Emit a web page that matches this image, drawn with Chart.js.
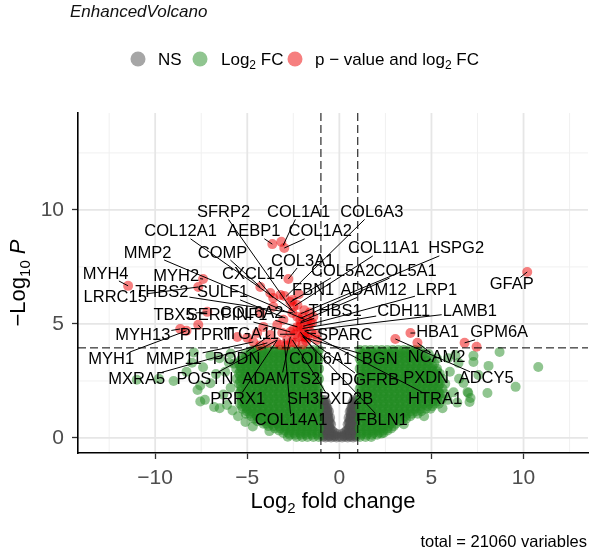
<!DOCTYPE html>
<html><head><meta charset="utf-8">
<script src="https://cdn.jsdelivr.net/npm/chart.js@4.4.1/dist/chart.umd.min.js"></script>
<style>html,body{margin:0;padding:0;background:#fff;overflow:hidden}canvas{display:block}</style>
</head><body>
<canvas id="c" width="595" height="549" style="width:595px;height:549px"></canvas>
<script>
// ---------- data ----------
const xTicks = [-10, -5, 0, 5, 10];
const yTicks = [0, 5, 10];
const xMinorTicks = [-12.5, -7.5, -2.5, 2.5, 7.5, 12.5];
const yMinorTicks = [2.5, 7.5, 12.5];
const fcCutoff = 1;
const pCutoffLog = 3.95;
const totalVariables = 21060;

// significant (p-value and log2 FC): [log2FC, -log10 P]
const sigPoints = [
 [10.2,7.28],[3.86,4.6],[3.04,4.34],[4.24,4.17],[6.8,4.17],[7.45,4.0],
 [-11.47,6.67],[-7.4,6.97],[-7.66,6.62],[-7.17,5.53],[-7.66,4.96],[-8.64,4.78],[-8.3,4.7],
 [-3.64,8.5],[-3.15,8.6],[-2.99,8.33],[-2.77,6.97],[-4.29,6.62],
 [-3.75,6.36],[-3.2,6.27],[-2.66,5.96],[-3.59,5.75],[-2.55,5.48],[-2.28,5.31],[-3.04,5.18],[-3.37,4.96],
 [-2.28,4.87],[-1.96,4.74],[-2.66,4.65],[-2.23,4.43],[-1.74,4.39],[-2.83,4.3],[-2.39,4.17],[-3.91,4.17],
 [-4.46,4.6],[-1.41,5.31],[-1.58,5.04],[-2.12,5.18],[-2.5,5.75],[-4.29,5.48],[-4.13,4.87],[-5.0,4.39],
 [-3.59,6.14],[-2.99,6.23],[-2.55,6.05],[-2.28,5.83],[-2.0,5.31],[-2.12,4.87],[-2.5,4.74],[-3.1,4.61],
 [-3.75,4.52],[-1.85,4.43],[-1.52,4.61],[-4.67,4.21],[-5.54,4.43],[-2.0,4.1],[-1.7,4.9],[-1.3,4.55],
 [-2.9,4.05],[-3.4,4.2],[-1.9,5.6],[-2.2,6.3],[-1.6,5.5],[-1.74,5.18],[-1.48,5.04],[-4.3,4.05],
 [-3.2,4.08],[-1.9,4.6],[-2.4,4.55],[-2.0,4.45],[-1.2,4.3],[-2.1,4.95],[-1.8,4.25],[-2.6,4.2]
];

// NS points, rows: [-log10 P, log2FC, log2FC, ...]
const nsRows = [
 [0.05,-0.9,-0.6,-0.3,0,0.3,0.6,0.9],
 [0.18,-0.75,-0.45,-0.15,0.15,0.45,0.75],
 [0.32,-0.9,-0.65,-0.4,0.4,0.65,0.9],
 [0.47,-0.8,-0.55,0.55,0.8],
 [0.6,-0.9,-0.7,-0.45,0.45,0.7,0.9],
 [0.75,-0.8,-0.6,0.6,0.8],
 [0.88,-0.9,-0.7,-0.5,0.5,0.7,0.9],
 [1.02,-0.8,-0.62,0.62,0.8],
 [1.15,-0.9,-0.72,-0.56,0.56,0.72,0.9],
 [1.3,-0.82,-0.64,0.64,0.82],
 [1.45,-0.9,-0.72,0.72,0.9],
 [1.6,-0.85,0.85],
 [0.1,-0.82,-0.52,-0.22,0.22,0.52,0.82],
 [0.4,-0.72,-0.5,0.5,0.72],
 [0.68,-0.85,-0.52,0.52,0.85],
 [0.95,-0.86,-0.66,0.66,0.86],
 [1.22,-0.85,-0.66,0.66,0.85],
 [0.25,-0.85,-0.58,-0.3,0.3,0.58,0.85],
 [0.53,-0.62,0.62],
 [0.82,-0.78,-0.58,0.58,0.78],
 [1.38,-0.78,0.78],
 [1.52,-0.84,-0.7,0.7,0.84],
 [0.02,-0.75,-0.45,-0.15,0.15,0.45,0.75],
 [0.14,-0.9,-0.6,-0.35,0.35,0.6,0.9],
 [0.36,-0.78,-0.55,0.55,0.78],
 [0.62,-0.76,-0.58,0.58,0.76],
 [0.9,-0.84,-0.62,0.62,0.84],
 [1.1,-0.8,-0.64,0.64,0.8],
 [1.35,-0.88,-0.7,0.7,0.88],
 [1.66,-0.92,-0.78,0.78,0.92]
];

// Log2 FC points (dense part), rows: [-log10 P, log2FC, ...]
const fcRows = [
 [0.04,-1.12,-1.41,-1.73,-2.02,-2.33],
 [0.22,-1.24,-1.56,-1.86,-2.14,-2.46,-2.76,-3.04],
 [0.42,-1.1,-1.4,-1.71,-2.0,-2.31,-2.6,-2.9,-3.21,-3.5],
 [0.62,-1.25,-1.54,-1.85,-2.16,-2.45,-2.74,-3.05,-3.36,-3.65,-3.94,-4.12],
 [0.84,-1.1,-1.41,-1.7,-2.01,-2.3,-2.61,-2.9,-3.2,-3.51,-3.8,-4.1,-4.39,-4.62],
 [1.06,-1.25,-1.55,-1.84,-2.15,-2.46,-2.75,-3.04,-3.35,-3.66,-3.95,-4.24,-4.55,-4.84,-5.08],
 [1.28,-1.1,-1.4,-1.7,-2.0,-2.31,-2.6,-2.9,-3.2,-3.5,-3.81,-4.1,-4.4,-4.7,-5.0,-5.26],
 [1.5,-1.25,-1.55,-1.86,-2.15,-2.45,-2.76,-3.05,-3.34,-3.65,-3.95,-4.26,-4.55,-4.85,-5.14,-5.4],
 [1.72,-1.1,-1.41,-1.7,-2.0,-2.3,-2.6,-2.91,-3.2,-3.5,-3.8,-4.1,-4.41,-4.7,-5.0,-5.3],
 [1.94,-1.25,-1.55,-1.85,-2.16,-2.45,-2.75,-3.05,-3.35,-3.64,-3.95,-4.25,-4.55,-4.86,-5.15,-5.45],
 [2.16,-1.1,-1.4,-1.7,-2.01,-2.3,-2.6,-2.9,-3.21,-3.5,-3.8,-4.1,-4.4,-4.7,-5.01,-5.3],
 [2.38,-1.25,-1.55,-1.85,-2.15,-2.46,-2.75,-3.05,-3.35,-3.65,-3.95,-4.24,-4.55,-4.85,-5.15,-5.45],
 [2.6,-1.1,-1.4,-1.71,-2.0,-2.3,-2.6,-2.9,-3.2,-3.51,-3.8,-4.1,-4.4,-4.7,-5.0,-5.3,-5.58],
 [2.82,-1.25,-1.55,-1.85,-2.15,-2.45,-2.75,-3.06,-3.35,-3.65,-3.95,-4.25,-4.55,-4.85,-5.15,-5.45],
 [3.04,-1.1,-1.4,-1.7,-2.0,-2.3,-2.61,-2.9,-3.2,-3.5,-3.8,-4.1,-4.4,-4.71,-5.0,-5.3,-5.6],
 [3.26,-1.25,-1.55,-1.85,-2.15,-2.45,-2.75,-3.05,-3.35,-3.65,-3.96,-4.25,-4.55,-4.85,-5.15,-5.45,-5.72],
 [3.48,-1.1,-1.4,-1.7,-2.0,-2.3,-2.6,-2.9,-3.2,-3.5,-3.8,-4.1,-4.4,-4.7,-5.0,-5.3],
 [3.68,-1.25,-1.55,-1.85,-2.15,-2.45,-2.75,-3.05,-3.35,-3.65,-3.95,-4.25,-4.55,-4.85,-5.12],
 [3.86,-1.1,-1.4,-1.7,-2.0,-2.3,-2.6,-2.9,-3.2,-3.5,-3.8,-4.1,-4.4,-4.68],
 [0.14,-1.18,-1.48,-1.8,-2.1,-2.4,-2.7],
 [0.33,-1.18,-1.48,-1.78,-2.08,-2.38,-2.68,-2.98,-3.28],
 [0.52,-1.18,-1.48,-1.78,-2.08,-2.38,-2.68,-2.98,-3.28,-3.58,-3.85],
 [0.73,-1.18,-1.48,-1.78,-2.08,-2.38,-2.68,-2.98,-3.28,-3.58,-3.88,-4.18,-4.45],
 [0.95,-1.18,-1.48,-1.78,-2.08,-2.38,-2.68,-2.98,-3.28,-3.58,-3.88,-4.18,-4.48,-4.78],
 [1.17,-1.18,-1.48,-1.78,-2.08,-2.38,-2.68,-2.98,-3.28,-3.58,-3.88,-4.18,-4.48,-4.78,-5.02],
 [1.39,-1.18,-1.48,-1.78,-2.08,-2.38,-2.68,-2.98,-3.28,-3.58,-3.88,-4.18,-4.48,-4.78,-5.08,-5.3],
 [1.61,-1.18,-1.48,-1.78,-2.08,-2.38,-2.68,-2.98,-3.28,-3.58,-3.88,-4.18,-4.48,-4.78,-5.08,-5.3],
 [1.83,-1.18,-1.48,-1.78,-2.08,-2.38,-2.68,-2.98,-3.28,-3.58,-3.88,-4.18,-4.48,-4.78,-5.08,-5.35],
 [2.05,-1.18,-1.48,-1.78,-2.08,-2.38,-2.68,-2.98,-3.28,-3.58,-3.88,-4.18,-4.48,-4.78,-5.08,-5.35],
 [2.27,-1.18,-1.48,-1.78,-2.08,-2.38,-2.68,-2.98,-3.28,-3.58,-3.88,-4.18,-4.48,-4.78,-5.08,-5.35],
 [2.49,-1.18,-1.48,-1.78,-2.08,-2.38,-2.68,-2.98,-3.28,-3.58,-3.88,-4.18,-4.48,-4.78,-5.08,-5.38],
 [2.71,-1.18,-1.48,-1.78,-2.08,-2.38,-2.68,-2.98,-3.28,-3.58,-3.88,-4.18,-4.48,-4.78,-5.08,-5.38],
 [2.93,-1.18,-1.48,-1.78,-2.08,-2.38,-2.68,-2.98,-3.28,-3.58,-3.88,-4.18,-4.48,-4.78,-5.08,-5.38],
 [3.15,-1.18,-1.48,-1.78,-2.08,-2.38,-2.68,-2.98,-3.28,-3.58,-3.88,-4.18,-4.48,-4.78,-5.08,-5.38],
 [3.37,-1.18,-1.48,-1.78,-2.08,-2.38,-2.68,-2.98,-3.28,-3.58,-3.88,-4.18,-4.48,-4.78,-5.08,-5.38],
 [3.58,-1.18,-1.48,-1.78,-2.08,-2.38,-2.68,-2.98,-3.28,-3.58,-3.88,-4.18,-4.48,-4.78,-5.05],
 [3.78,-1.18,-1.48,-1.78,-2.08,-2.38,-2.68,-2.98,-3.28,-3.58,-3.88,-4.18,-4.48,-4.8],
 [0.04,1.12,1.42,1.73],
 [0.22,1.25,1.55,1.86,2.15,2.4],
 [0.42,1.1,1.41,1.7,2.0,2.3,2.6,2.82],
 [0.62,1.25,1.55,1.85,2.15,2.45,2.75,3.05],
 [0.84,1.1,1.4,1.7,2.01,2.3,2.6,2.9,3.2,3.45,3.62],
 [1.06,1.25,1.55,1.85,2.15,2.45,2.75,3.05,3.35,3.65,3.95,4.25],
 [1.28,1.1,1.4,1.7,2.0,2.3,2.6,2.9,3.2,3.5,3.8,4.1,4.4,4.7,4.95],
 [1.5,1.25,1.55,1.85,2.15,2.45,2.75,3.05,3.35,3.65,3.95,4.25,4.55,4.85,5.15,5.4],
 [1.72,1.1,1.4,1.7,2.0,2.3,2.6,2.9,3.2,3.5,3.8,4.1,4.4,4.7,5.0,5.3,5.58],
 [1.94,1.25,1.55,1.85,2.15,2.45,2.75,3.05,3.35,3.65,3.95,4.25,4.55,4.85,5.15,5.45,5.72],
 [2.16,1.1,1.4,1.7,2.0,2.3,2.6,2.9,3.2,3.5,3.8,4.1,4.4,4.7,5.0,5.3,5.6],
 [2.38,1.25,1.55,1.85,2.15,2.45,2.75,3.05,3.35,3.65,3.95,4.25,4.55,4.85,5.15,5.45,5.75],
 [2.6,1.1,1.4,1.7,2.0,2.3,2.6,2.9,3.2,3.5,3.8,4.1,4.4,4.7,5.0,5.3,5.6],
 [2.82,1.25,1.55,1.85,2.15,2.45,2.75,3.05,3.35,3.65,3.95,4.25,4.55,4.85,5.15,5.45],
 [3.04,1.1,1.4,1.7,2.0,2.3,2.6,2.9,3.2,3.5,3.8,4.1,4.4,4.7,5.0,5.3],
 [3.26,1.25,1.55,1.85,2.15,2.45,2.75,3.05,3.35,3.65,3.95,4.25,4.55,4.85,5.15],
 [3.48,1.1,1.4,1.7,2.0,2.3,2.6,2.9,3.2,3.5,3.8,4.1,4.4,4.7,5.0,5.3],
 [3.68,1.25,1.55,1.85,2.15,2.45,2.75,3.05,3.35,3.65,3.95,4.25,4.55,4.85],
 [3.86,1.1,1.4,1.7,2.0,2.3,2.6,2.9,3.2,3.5,3.8,4.1,4.4],
 [0.14,1.18,1.48,1.78,2.05],
 [0.33,1.18,1.48,1.78,2.08,2.38,2.62],
 [0.52,1.18,1.48,1.78,2.08,2.38,2.68,2.95],
 [0.73,1.18,1.48,1.78,2.08,2.38,2.68,2.98,3.28],
 [0.95,1.18,1.48,1.78,2.08,2.38,2.68,2.98,3.28,3.58,3.85],
 [1.17,1.18,1.48,1.78,2.08,2.38,2.68,2.98,3.28,3.58,3.88,4.18,4.45],
 [1.39,1.18,1.48,1.78,2.08,2.38,2.68,2.98,3.28,3.58,3.88,4.18,4.48,4.78,5.05],
 [1.61,1.18,1.48,1.78,2.08,2.38,2.68,2.98,3.28,3.58,3.88,4.18,4.48,4.78,5.08,5.35],
 [1.83,1.18,1.48,1.78,2.08,2.38,2.68,2.98,3.28,3.58,3.88,4.18,4.48,4.78,5.08,5.38],
 [2.05,1.18,1.48,1.78,2.08,2.38,2.68,2.98,3.28,3.58,3.88,4.18,4.48,4.78,5.08,5.38],
 [2.27,1.18,1.48,1.78,2.08,2.38,2.68,2.98,3.28,3.58,3.88,4.18,4.48,4.78,5.08,5.38],
 [2.49,1.18,1.48,1.78,2.08,2.38,2.68,2.98,3.28,3.58,3.88,4.18,4.48,4.78,5.08,5.38],
 [2.71,1.18,1.48,1.78,2.08,2.38,2.68,2.98,3.28,3.58,3.88,4.18,4.48,4.78,5.08,5.38],
 [2.93,1.18,1.48,1.78,2.08,2.38,2.68,2.98,3.28,3.58,3.88,4.18,4.48,4.78,5.08,5.3],
 [3.15,1.18,1.48,1.78,2.08,2.38,2.68,2.98,3.28,3.58,3.88,4.18,4.48,4.78,5.05],
 [3.37,1.18,1.48,1.78,2.08,2.38,2.68,2.98,3.28,3.58,3.88,4.18,4.48,4.78],
 [3.58,1.18,1.48,1.78,2.08,2.38,2.68,2.98,3.28,3.58,3.88,4.18,4.48],
 [3.78,1.18,1.48,1.78,2.08,2.38,2.68,2.98,3.28,3.58,3.88,4.18]
];

// Log2 FC points (scattered): [log2FC, -log10 P]
const fcSparse = [
 [-11.0,2.55],[-9.8,2.6],[-9.0,2.5],[-8.3,2.9],[-7.9,3.75],[-7.0,3.6],[-6.5,3.5],[-7.7,2.1],
 [-7.3,1.67],[-6.5,1.3],[-6.1,1.45],[-7.0,2.4],[-7.55,2.3],[-6.2,2.9],[-6.0,3.3],[-5.9,2.2],
 [-6.3,1.9],[-5.8,1.2],[-6.7,2.8],[-5.9,3.7],[-8.0,3.3],[-7.4,3.1],[-5.1,0.7],[-4.7,0.5],
 [-3.8,0.3],[-2.8,0.05],[-5.5,0.95],[-6.8,1.36],[-7.55,1.6],
 [6.47,3.29],[7.28,3.33],[6.96,2.02],[7.12,1.75],[8.04,1.97],[7.55,2.76],[6.3,3.64],[6.74,2.41],
 [5.87,1.67],[8.7,3.77],[7.28,3.6],[8.1,3.16],[10.8,3.11],[9.57,2.24],[7.0,1.97],[7.07,1.58],
 [6.2,2.0],[6.0,2.9],[6.5,2.6],[5.9,3.5],[4.6,0.95],[5.6,1.3],[6.4,1.55],[3.5,0.6],[2.3,0.2]
];

// gene labels, their label centres and the points they point to (data units)
const geneLabels = ['SFRP2','COL1A1','COL6A3','COL12A1','AEBP1','COL1A2','MMP2','COMP','MYH4','MYH2',
 'CXCL14','COL3A1','COL11A1','HSPG2','COL5A2','COL5A1','LRRC15','THBS2','SULF1','FBN1','ADAM12','LRP1',
 'THBS1','CDH11','LAMB1','TBX5','SERPINF1','COL6A2','MYH13','PTPRT','ITGA11','SPARC','HBA1','GPM6A',
 'GFAP','MYH1','MMP11','PODN','COL6A1','BGN','NCAM2','MXRA5','POSTN','ADAMTS2','PDGFRB','PXDN','ADCY5',
 'PRRX1','SH3PXD2B','HTRA1','COL14A1','FBLN1'];
const labelAt = [[-6.29,9.89],[-2.21,9.89],[1.76,9.89],[-8.62,9.04],[-4.64,9.04],[-1.04,9.04],[-10.41,8.11],
 [-6.34,8.11],[-12.69,7.19],[-8.86,7.1],[-4.68,7.19],[-1.99,7.76],[2.41,8.29],[6.34,8.29],[0.18,7.32],
 [3.57,7.32],[-12.17,6.14],[-9.64,6.36],[-6.34,6.36],[-1.42,6.47],[1.86,6.47],[5.28,6.47],[-0.23,5.55],
 [3.49,5.55],[7.08,5.55],[-8.97,5.39],[-6.09,5.39],[-4.76,5.46],[-10.67,4.5],[-7.2,4.5],[-4.79,4.54],
 [0.29,4.5],[5.34,4.61],[8.68,4.61],[9.36,6.73],[-12.39,3.46],[-8.99,3.46],[-5.58,3.46],[-1.02,3.46],
 [2.19,3.46],[5.28,3.55],[-11.0,2.57],[-7.3,2.57],[-3.16,2.57],[1.37,2.54],[4.71,2.59],[7.97,2.59],
 [-5.52,1.69],[-0.5,1.69],[5.2,1.71],[-2.62,0.75],[2.32,0.77]];
const labelTarget = [[-2.55,5.6],[-3.05,8.45],[-2.9,6.2],[-2.4,5.5],[-3.64,8.5],[-2.99,8.33],[-1.9,5.2],
 [-4.29,6.62],[-11.47,6.67],[-7.4,6.97],[-3.59,6.14],[-2.77,6.97],[-2.4,5.8],[-2.1,5.45],[-2.66,5.96],
 [-2.1,5.25],[-7.66,6.62],[-2.5,5.48],[-2.93,5.26],[-2.55,6.05],[-2.1,5.1],[-1.96,4.9],[-2.12,5.04],
 [-2.0,4.8],[-1.85,4.7],[-7.17,5.53],[-2.66,4.65],[-2.28,4.87],[-8.64,4.78],[-7.66,4.96],[-2.4,4.55],
 [-1.74,4.6],[3.86,4.6],[6.8,4.17],[10.2,7.28],[-8.3,4.7],[-4.67,4.21],[-3.75,4.52],[-2.12,4.65],
 [-1.85,4.39],[4.24,4.17],[-3.91,4.17],[-3.37,4.3],[-2.66,4.43],[-2.0,4.52],null,[3.04,4.34],
 [-3.37,4.3],[-2.55,4.3],[-1.9,4.7],[-3.0,4.35],[-2.0,4.45]];

// ---------- build ----------
const rowsToPoints = rows => rows.flatMap(r => r.slice(1).map(x => ({x: x, y: r[0]})));
const pairsToPoints = arr => arr.map(p => ({x: p[0], y: p[1]}));

const FONT = '"Liberation Sans", Arial, Helvetica, sans-serif';
const COL_NS = 'rgba(77,77,77,0.5)';
const COL_FC = 'rgba(34,139,34,0.5)';
const COL_SIG = 'rgba(238,0,0,0.5)';
const PT_R = 5;

function drawParts(ctx, parts, x, y) {
  let cx = x;
  parts.forEach(p => {
    ctx.font = p.font;
    ctx.fillText(p.t, cx, y + (p.dy || 0));
    cx += ctx.measureText(p.t).width;
  });
  return cx;
}
function partsWidth(ctx, parts) {
  let w = 0;
  parts.forEach(p => { ctx.font = p.font; w += ctx.measureText(p.t).width; });
  return w;
}

const overlay = {
  id: 'overlay',
  beforeDraw(chart) {
    const ctx = chart.ctx, a = chart.chartArea;
    const xs = chart.scales.x, ys = chart.scales.y;
    ctx.save();
    ctx.fillStyle = '#fff';
    ctx.fillRect(0, 0, chart.width, chart.height);
    ctx.strokeStyle = '#f0f0f0'; ctx.lineWidth = 1;
    xMinorTicks.forEach(v => { const px = xs.getPixelForValue(v); ctx.beginPath(); ctx.moveTo(px, a.top); ctx.lineTo(px, a.bottom); ctx.stroke(); });
    yMinorTicks.forEach(v => { const py = ys.getPixelForValue(v); ctx.beginPath(); ctx.moveTo(a.left, py); ctx.lineTo(a.right, py); ctx.stroke(); });
    ctx.strokeStyle = '#e6e6e6'; ctx.lineWidth = 1.8;
    xTicks.forEach(v => { const px = xs.getPixelForValue(v); ctx.beginPath(); ctx.moveTo(px, a.top); ctx.lineTo(px, a.bottom); ctx.stroke(); });
    yTicks.forEach(v => { const py = ys.getPixelForValue(v); ctx.beginPath(); ctx.moveTo(a.left, py); ctx.lineTo(a.right, py); ctx.stroke(); });
    ctx.restore();
  },
  afterDatasetsDraw(chart) {
    const ctx = chart.ctx, a = chart.chartArea;
    const xs = chart.scales.x, ys = chart.scales.y;
    ctx.save();
    ctx.strokeStyle = '#000'; ctx.lineWidth = 1; ctx.setLineDash([8, 4]);
    [-fcCutoff, fcCutoff].forEach(v => { const px = xs.getPixelForValue(v); ctx.beginPath(); ctx.moveTo(px, a.top); ctx.lineTo(px, a.bottom); ctx.stroke(); });
    const py = ys.getPixelForValue(pCutoffLog);
    ctx.beginPath(); ctx.moveTo(a.left, py); ctx.lineTo(a.right, py); ctx.stroke();
    ctx.setLineDash([]);
    ctx.font = '16.5px ' + FONT;
    ctx.strokeStyle = '#000'; ctx.lineWidth = 1;
    geneLabels.forEach((name, i) => {
      const t = labelTarget[i];
      if (!t) return;
      const cx = xs.getPixelForValue(labelAt[i][0]), cy = ys.getPixelForValue(labelAt[i][1]);
      const tx = xs.getPixelForValue(t[0]), ty = ys.getPixelForValue(t[1]);
      const w = ctx.measureText(name).width / 2 + 1, h = 7;
      const dx = tx - cx, dy = ty - cy;
      if (Math.abs(dx) <= w && Math.abs(dy) <= h) return;
      const s = Math.min(dx !== 0 ? w / Math.abs(dx) : Infinity, dy !== 0 ? h / Math.abs(dy) : Infinity);
      ctx.beginPath(); ctx.moveTo(cx + dx * s, cy + dy * s); ctx.lineTo(tx, ty); ctx.stroke();
    });
    ctx.fillStyle = '#000'; ctx.textAlign = 'center'; ctx.textBaseline = 'middle';
    geneLabels.forEach((name, i) => {
      ctx.fillText(name, xs.getPixelForValue(labelAt[i][0]), ys.getPixelForValue(labelAt[i][1]));
    });
    ctx.restore();
  },
  afterDraw(chart) {
    const ctx = chart.ctx, a = chart.chartArea;
    ctx.save();
    ctx.textBaseline = 'alphabetic'; ctx.textAlign = 'left';
    ctx.fillStyle = '#111';
    ctx.font = 'italic 17px ' + FONT;
    ctx.fillText('EnhancedVolcano', 70, 17);
    const f = '17px ' + FONT, fs = '12px ' + FONT;
    const dots = [[138, COL_NS], [200, COL_FC], [295, COL_SIG]];
    dots.forEach(d => { ctx.fillStyle = d[1]; ctx.beginPath(); ctx.arc(d[0], 59, 7.5, 0, Math.PI * 2); ctx.fill(); });
    ctx.fillStyle = '#000';
    drawParts(ctx, [{t: 'NS', font: f}], 158, 65);
    drawParts(ctx, [{t: 'Log', font: f}, {t: '2', font: fs, dy: 4}, {t: ' FC', font: f}], 221, 65);
    drawParts(ctx, [{t: 'p \u2212 value and log', font: f}, {t: '2', font: fs, dy: 4}, {t: ' FC', font: f}], 315, 65);
    const tf = '22px ' + FONT, tfs = '15px ' + FONT;
    const xParts = [{t: 'Log', font: tf}, {t: '2', font: tfs, dy: 5}, {t: ' fold change', font: tf}];
    const xw = partsWidth(ctx, xParts);
    drawParts(ctx, xParts, (a.left + a.right) / 2 - xw / 2, 508);
    const yParts = [{t: '\u2212Log', font: tf}, {t: '10', font: tfs, dy: 5}, {t: ' ', font: tf}, {t: 'P', font: 'italic 22px ' + FONT}];
    const yw = partsWidth(ctx, yParts);
    ctx.save();
    ctx.translate(25, (a.top + a.bottom) / 2);
    ctx.rotate(-Math.PI / 2);
    drawParts(ctx, yParts, -yw / 2, 0);
    ctx.restore();
    ctx.font = '16.5px ' + FONT; ctx.textAlign = 'right';
    ctx.fillText('total = ' + totalVariables + ' variables', 587, 547);
    ctx.restore();
  }
};

const fmt = v => (v < 0 ? '\u2212' + Math.abs(v) : String(v));

new Chart(document.getElementById('c'), {
  type: 'scatter',
  data: {
    datasets: [
      {label: 'p - value and log2 FC', data: pairsToPoints(sigPoints), backgroundColor: COL_SIG, borderWidth: 0, pointRadius: PT_R},
      {label: 'Log2 FC', data: rowsToPoints(fcRows).concat(pairsToPoints(fcSparse)), backgroundColor: COL_FC, borderWidth: 0, pointRadius: PT_R},
      {label: 'NS', data: rowsToPoints(nsRows), backgroundColor: COL_NS, borderWidth: 0, pointRadius: PT_R}
    ]
  },
  options: {
    responsive: false,
    animation: false,
    devicePixelRatio: 1,
    events: [],
    layout: {padding: {top: 113, right: 7, left: 0, bottom: 0}},
    plugins: {legend: {display: false}, tooltip: {enabled: false}, title: {display: false}},
    scales: {
      x: {
        type: 'linear', min: -14.19, max: 13.5,
        afterBuildTicks: s => { s.ticks = xTicks.map(v => ({value: v})); },
        afterFit: s => { s.height = 96; },
        grid: {drawOnChartArea: false, drawTicks: true, tickLength: 6, tickColor: '#333', tickWidth: 1.3},
        border: {display: true, color: '#000', width: 1.6},
        ticks: {font: {family: FONT, size: 21}, color: '#4d4d4d', padding: 7, maxRotation: 0, callback: fmt}
      },
      y: {
        type: 'linear', min: -0.66, max: 14.25,
        afterBuildTicks: s => { s.ticks = yTicks.map(v => ({value: v})); },
        afterFit: s => { s.width = 78; },
        grid: {drawOnChartArea: false, drawTicks: true, tickLength: 6, tickColor: '#333', tickWidth: 1.3},
        border: {display: true, color: '#000', width: 1.6},
        ticks: {font: {family: FONT, size: 21}, color: '#4d4d4d', padding: 8, callback: fmt}
      }
    }
  },
  plugins: [overlay]
});
</script>
</body></html>
